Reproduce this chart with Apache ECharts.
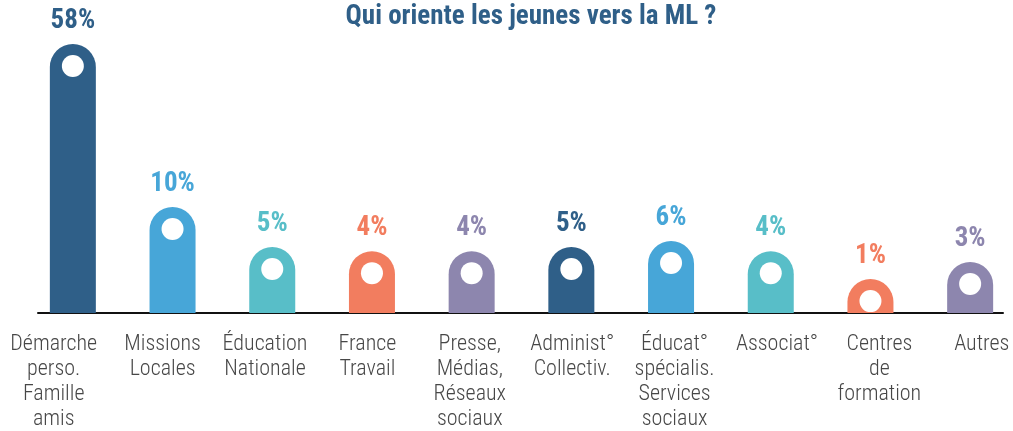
<!DOCTYPE html>
<html>
<head>
<meta charset="utf-8">
<script src="https://cdn.jsdelivr.net/npm/echarts@6/dist/echarts.min.js"></script>
<style>
  html, body { margin: 0; padding: 0; background: #fff; }
  #chart { width: 1013px; height: 431px; }
</style>
</head>
<body>
<div id="chart"></div>
<script>
// categories (x axis labels)
const categories = [
  "Démarche\nperso.\nFamille\namis",
  "Missions\nLocales",
  "Éducation\nNationale",
  "France\nTravail",
  "Presse,\nMédias,\nRéseaux\nsociaux",
  "Administ°\nCollectiv.",
  "Éducat°\nspécialis.\nServices\nsociaux",
  "Associat°",
  "Centres\nde\nformation",
  "Autres"
];
// percentages printed above each bar
const percents = [58, 10, 5, 4, 4, 5, 6, 4, 1, 3];
// drawn bar heights, relative to the tallest bar (=100)
const barLevels = [100, 39.4, 24.5, 23, 23, 24.5, 26.8, 23, 12.6, 19];

const palette = ["#2f5f88", "#47a6d8", "#58bec8", "#f27d5f", "#8d86ae"];
const FONT = "'Roboto Condensed', 'DejaVu Sans Condensed', Roboto, sans-serif";

const chart = echarts.init(document.getElementById("chart"));

const barData = barLevels.map((v, i) => ({
  value: v,
  itemStyle: { color: palette[i % palette.length] },
  label: { color: palette[i % palette.length] }
}));

// first label sits a little closer to the left edge
const labelData = categories.map((c, i) =>
  i === 0 ? { value: c, textStyle: { padding: [0, 13, 0, 0] } } : c
);

const option = {
  animation: false,
  title: {
    text: "Qui oriente les jeunes vers la ML ?",
    left: 531,
    top: 4,
    padding: 0,
    textAlign: "center",
    textStyle: {
      color: "#2f5f88",
      fontFamily: FONT,
      fontWeight: "bold",
      fontSize: 27
    }
  },
  grid: [
    // bars
    { left: 23, width: 997, top: 44, bottom: 118, outerBoundsMode: "none" },
    // baseline
    { left: 38, width: 965, top: 44, bottom: 118, outerBoundsMode: "none" },
    // category labels
    { left: 9, width: 1024, top: 44, bottom: 118, outerBoundsMode: "none" }
  ],
  xAxis: [
    {
      gridIndex: 0,
      type: "category",
      data: categories,
      axisLine: { show: false },
      axisTick: { show: false },
      axisLabel: { show: false }
    },
    {
      gridIndex: 1,
      type: "value",
      axisLine: { show: true, onZero: false, lineStyle: { color: "#111", width: 2 } },
      axisTick: { show: false },
      axisLabel: { show: false },
      splitLine: { show: false }
    },
    {
      gridIndex: 2,
      type: "category",
      data: labelData,
      axisLine: { show: false },
      axisTick: { show: false },
      axisLabel: {
        interval: 0,
        margin: 19,
        color: "#474747",
        fontFamily: FONT,
        fontWeight: 300,
        fontSize: 22,
        lineHeight: 25,
        align: "center"
      }
    }
  ],
  yAxis: [
    { gridIndex: 0, type: "value", min: 0, max: 100, show: false },
    { gridIndex: 1, type: "value", show: false },
    { gridIndex: 2, type: "value", show: false }
  ],
  series: [
    {
      type: "bar",
      xAxisIndex: 0,
      yAxisIndex: 0,
      barWidth: 46,
      data: barData,
      itemStyle: { borderRadius: [23, 23, 0, 0] },
      label: {
        show: true,
        position: "top",
        distance: 9,
        fontFamily: FONT,
        fontWeight: "bold",
        fontSize: 27,
        formatter: (p) => percents[p.dataIndex] + "%"
      },
      z: 2
    },
    {
      type: "scatter",
      xAxisIndex: 0,
      yAxisIndex: 0,
      data: barLevels,
      symbol: "circle",
      symbolSize: 22,
      symbolOffset: [0, 22],
      itemStyle: { color: "#ffffff", opacity: 1 },
      silent: true,
      z: 3
    }
  ]
};

chart.setOption(option);
</script>
</body>
</html>
